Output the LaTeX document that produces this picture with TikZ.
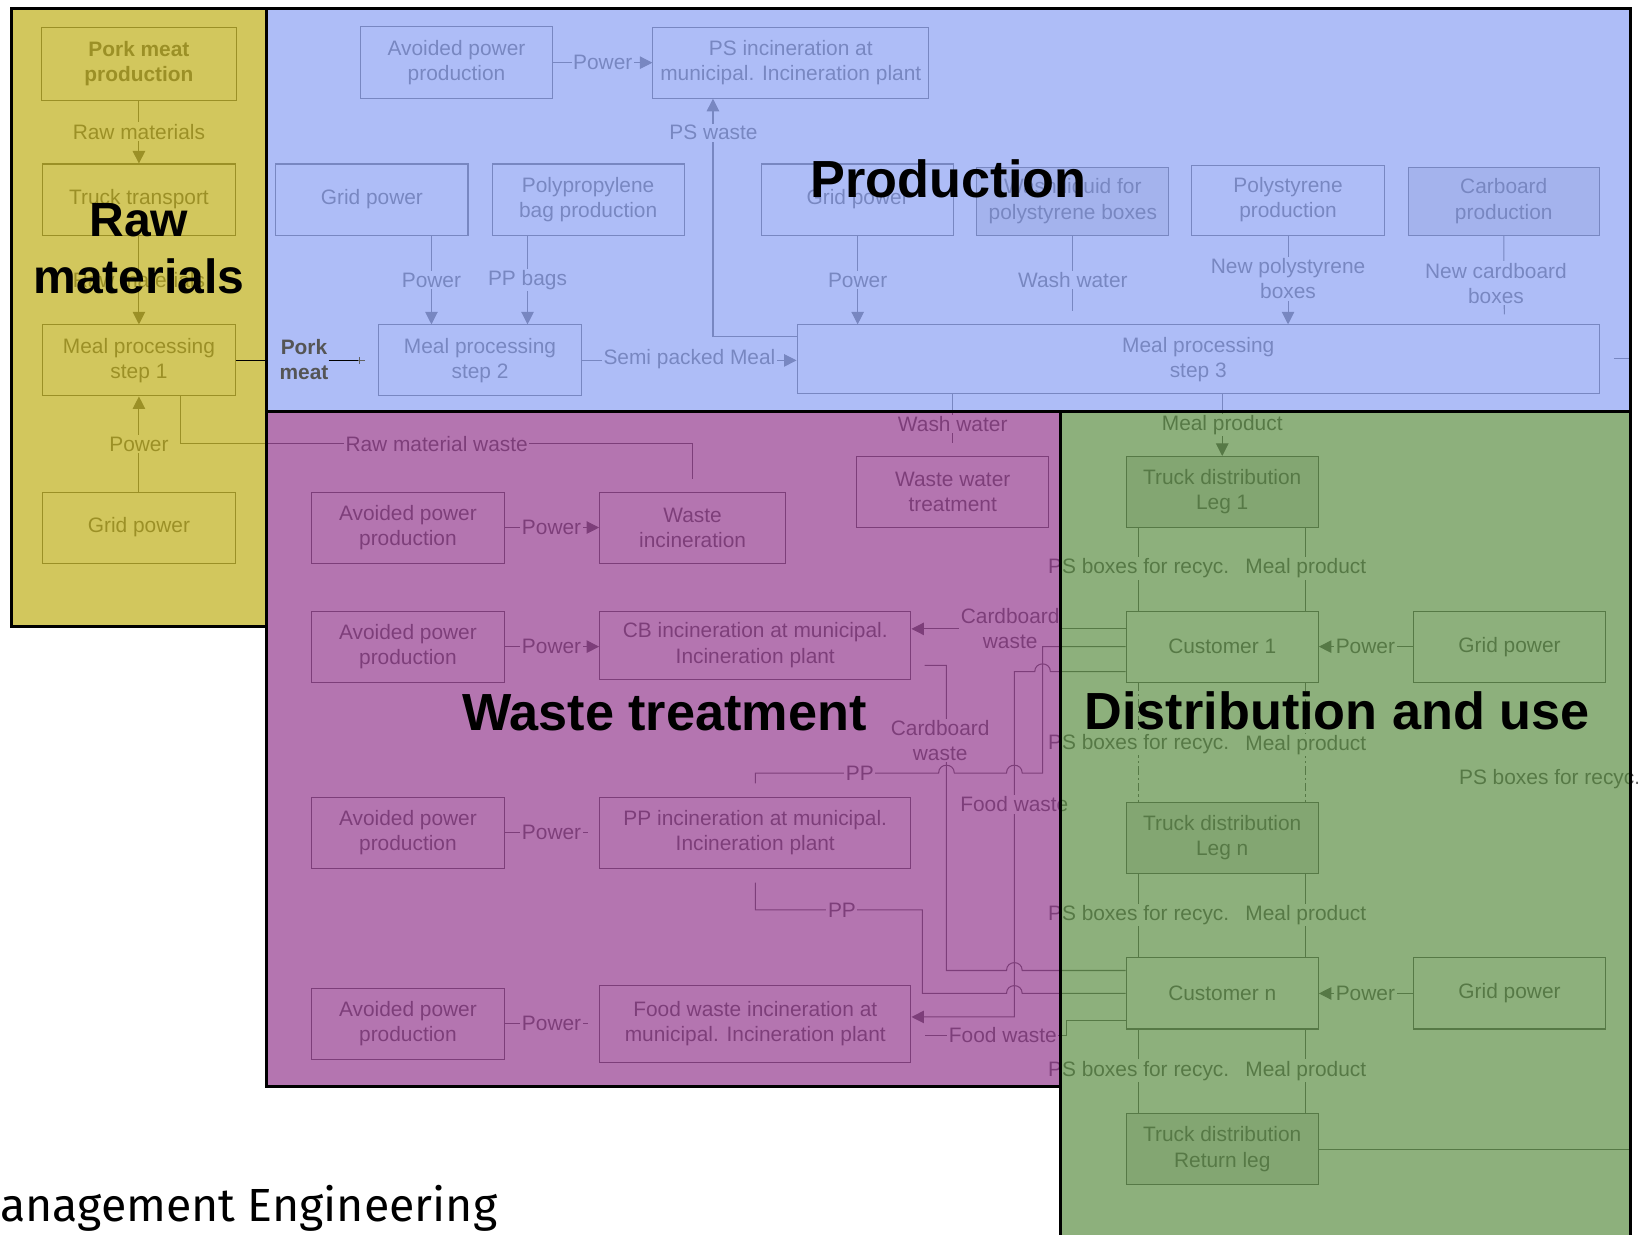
\documentclass[tikz,border=0pt]{standalone}
\usepackage{fontspec}
\setmainfont{Liberation Sans}
\newfontfamily\footfont{Fira Sans}
\usetikzlibrary{arrows.meta}
\definecolor{ink}{RGB}{98,98,98}
\definecolor{darkfill}{RGB}{226,226,226}
\definecolor{ovY}{RGB}{187,169,7}
\definecolor{ovB}{RGB}{132,155,244}
\definecolor{ovP}{RGB}{141,44,135}
\definecolor{ovG}{RGB}{81,134,55}
\definecolor{porkgray}{RGB}{85,85,85}
\begin{document}
\begin{tikzpicture}[x=1pt,y=-1pt,
  bx/.style={draw=ink, line width=1pt, text=ink, align=center, inner sep=0pt,
    font=\fontsize{20}{24}\selectfont, minimum width=184pt, minimum height=68pt},
  dk/.style={fill=darkfill},
  lbl/.style={fill=white, text=ink, inner sep=1.5pt, align=center, font=\fontsize{20}{24}\selectfont},
  con/.style={draw=ink, line width=1pt},
  arr/.style={-{Triangle[length=12pt,width=12pt]}},
  dashdot/.style={dash pattern=on 8pt off 3pt on 2pt off 3pt},
  region/.style={draw=black, line width=2.5pt},
  title/.style={text=black, align=center, inner sep=0pt, font=\fontsize{50}{57}\selectfont\bfseries},
]
\useasboundingbox (0,0) rectangle (1568,1182);
\fill[white] (0,0) rectangle (1568,1182);

% ---------------- boxes: raw materials
\node[bx, minimum width=186pt, minimum height=70pt, font=\fontsize{20}{24}\selectfont\bfseries] (pork) at (133,61) {Pork meat\\production};
\node[bx] (truck) at (133,191) {Truck transport};
\node[bx] (mp1) at (133,345) {Meal processing\\step 1};
\node[bx] (grid1) at (133,505) {Grid power};

% ---------------- boxes: production
\node[bx, minimum width=184pt, minimum height=69pt] (avp0) at (437,60) {Avoided power\\production};
\node[bx, minimum width=264pt] (psinc) at (757,60) {PS incineration at\\municipal. Incineration plant};
\node[bx] (grid2) at (356,191) {Grid power};
\node[bx] (ppbag) at (563,191) {Polypropylene\\bag production};
\node[bx] (grid3) at (821,191) {Grid power};
\node[bx, dk, minimum width=184pt, minimum height=65pt] (wash) at (1027,192.5) {Wash liquid for\\polystyrene boxes};
\node[bx, minimum height=67pt] (psprod) at (1233,191.5) {Polystyrene\\production};
\node[bx, dk, minimum width=183pt, minimum height=65pt] (cbprod) at (1439.5,192.5) {Carboard\\production};
\node[bx, minimum width=195pt] (mp2) at (459.5,345) {Meal processing\\step 2};
\node[bx, minimum width=768pt, minimum height=66pt] (mp3) at (1147,344) {Meal processing\\step 3};

% ---------------- boxes: waste treatment
\node[bx] (avp1) at (390.5,505) {Avoided power\\production};
\node[bx, minimum width=178pt] (winc) at (663,505) {Waste\\incineration};
\node[bx] (wwt) at (912,471) {Waste water\\treatment};
\node[bx] (avp2) at (390.5,619) {Avoided power\\production};
\node[bx, minimum width=298pt, minimum height=65pt] (cbinc) at (723,617.5) {CB incineration at municipal.\\Incineration plant};
\node[bx] (avp3) at (390.5,797) {Avoided power\\production};
\node[bx, minimum width=298pt] (ppinc) at (723,797) {PP incineration at municipal.\\Incineration plant};
\node[bx] (avp4) at (390.5,980) {Avoided power\\production};
\node[bx, minimum width=298pt, minimum height=74pt] (fwinc) at (723,980) {Food waste incineration at\\municipal. Incineration plant};

% ---------------- boxes: distribution and use
\node[bx, dk] (leg1) at (1170,471) {Truck distribution\\Leg 1};
\node[bx] (cust1) at (1170,619) {Customer 1};
\node[bx] (grid4) at (1445,619) {Grid power};
\node[bx, dk] (legn) at (1170,802) {Truck distribution\\Leg n};
\node[bx] (custn) at (1170,951) {Customer n};
\node[bx] (grid5) at (1445,951) {Grid power};
\node[bx, dk] (legr) at (1170,1100) {Truck distribution\\Return leg};

% ---------------- connectors: raw materials
\draw[con,arr] (pork.south) -- (truck.north);
\node[lbl] (l1) at (133,126) {Raw materials};
\draw[con,arr] (truck.south) -- (mp1.north);
\node[lbl] (l2) at (133,268) {Raw materials};
\draw[con,arr] (grid1.north) -- (mp1.south);
\node[lbl] (l3) at (133,425) {Power};
\coordinate (rmwend) at (663,459);
\draw[con] ([xshift=40pt]mp1.south) |- (663,425) -- (rmwend);
\node[lbl] (l4) at (418,425) {Raw material waste};

% ---------------- connectors: production
\draw[con,arr] (avp0.east) -- (psinc.west);
\node[lbl] (l5) at (577,60) {Power};
\draw[con,arr] ([xshift=57pt]grid2.south) -- ([xshift=-46.5pt]mp2.north);
\node[lbl] (l6) at (413,268) {Power};
\draw[con,arr] ([xshift=-58pt]ppbag.south) -- ([xshift=45.5pt]mp2.north);
\node[lbl] (l7) at (505,268) {PP bags};
\draw[con,arr] (grid3.south) -- ([xshift=-326pt]mp3.north);
\node[lbl] (l8) at (821,268) {Power};
\coordinate (wwend) at (1027,298);
\draw[con] (wash.south) -- (wwend);
\node[lbl] (l9) at (1027,268) {Wash water};
\draw[con,arr] (psprod.south) -- ([xshift=86pt]mp3.north);
\node[lbl] (l10) at (1233,267) {New polystyrene\\boxes};
\coordinate (cbend) at (1440,301);
\draw[con] (cbprod.south) -- (cbend);
\node[lbl] (l11) at (1432,271) {New cardboard\\boxes};
\draw[con,arr] (mp2.east) -- (mp2.east -| mp3.west);
\node[lbl] (l12) at (660,344) {Semi packed Meal};
\coordinate (m3w) at ([yshift=22pt]mp3.west);
\draw[con,arr] (m3w) -| ([xshift=-74.5pt]psinc.south);
\node[lbl] (l13) at (683,127) {PS waste};
\coordinate (s3a) at (1545,343);
\coordinate (s3b) at (1561,343);
\draw[con] (s3a) -- (s3b);
\coordinate (wwtend) at (912,424);
\draw[con] ([xshift=-235pt]mp3.south) -- (wwtend);
\node[lbl] (l14) at (912,406) {Wash water};
\draw[con,arr] ([xshift=23pt]mp3.south) -- (leg1.north);
\node[lbl] (l15) at (1170,407) {Meal product};

% ---------------- connectors: waste treatment
\draw[con,arr] (avp1.east) -- (winc.west);
\node[lbl] (l16) at (528,505) {Power};
\draw[con,arr] (avp2.east) -- (avp2.east -| cbinc.west);
\node[lbl] (l17) at (528,619) {Power};
\coordinate (p3end) at (563,797);
\draw[con] (avp3.east) -- (p3end);
\node[lbl] (l18) at (528,797) {Power};
\coordinate (p4end) at (563,980);
\draw[con] (avp4.east) -- (p4end);
\node[lbl] (l19) at (528,980) {Power};

% cardboard waste 1
\coordinate (c1a) at ([yshift=17pt]cust1.west);
\draw[con,arr] (c1a) -- (c1a -| cbinc.east);
\node[lbl] (l20) at (967,602) {Cardboard\\waste};
% PP 1
\coordinate (pp1end) at (723,750);
\draw[con] (cust1.west) -- (998,619) -- (998,740) -- (978.5,740)
  .. controls (978.5,730) and (963.5,730) .. (963.5,740) -- (913.5,740)
  .. controls (913.5,730) and (898.5,730) .. (898.5,740) -- (723,740) -- (pp1end);
\node[lbl] (l21) at (823,740) {PP};
% food waste 1
\coordinate (c1c) at ([yshift=-24pt]cust1.west);
\coordinate (fwin) at ([yshift=6.5pt]fwinc.east);
\draw[con,arr] (c1c) -- (1005.5,643) .. controls (1005.5,633) and (990.5,633) .. (990.5,643)
  -- (971,643) -- (971,973.5) -- (fwin);
\node[lbl] (l22) at (971,770) {Food waste};
% cardboard waste 2
\coordinate (cb2s) at (885,637);
\coordinate (cna) at ([yshift=22pt]custn.west);
\draw[con] (cb2s) -- (906,637) -- (906,929) -- (963.5,929)
  .. controls (963.5,919) and (978.5,919) .. (978.5,929) -- (cna);
\node[lbl] (l23) at (900,709) {Cardboard\\waste};
% PP 2
\coordinate (pp2s) at (723,845);
\draw[con] (pp2s) -- (723,871) -- (883,871) -- (883,951) -- (963.5,951)
  .. controls (963.5,941) and (978.5,941) .. (978.5,951) -- (custn.west);
\node[lbl] (l24) at (806,871) {PP};
% food waste 2
\coordinate (cnc) at ([yshift=-26pt]custn.west);
\coordinate (fw2end) at (885,991);
\draw[con] (cnc) -- (1021,977) -- (1021,991) -- (fw2end);
\node[lbl] (l25) at (960,991) {Food waste};

% ---------------- connectors: distribution
\draw[con] ([xshift=-80pt]leg1.south) -- ([xshift=-80pt]cust1.north);
\draw[con] ([xshift=80pt]leg1.south) -- ([xshift=80pt]cust1.north);
\node[lbl] (l26) at (1090,544) {PS boxes for recyc.};
\node[lbl] (l27) at (1250,544) {Meal product};
\draw[con,arr] (grid4.west) -- (cust1.east);
\node[lbl] (l28) at (1307,619) {Power};
\draw[con,dashdot] ([xshift=-80pt]cust1.south) -- ([xshift=-80pt]legn.north);
\draw[con,dashdot] ([xshift=80pt]cust1.south) -- ([xshift=80pt]legn.north);
\node[lbl] (l29) at (1090,712) {PS boxes for recyc.};
\node[lbl] (l30) at (1250,713) {Meal product};
\node[lbl, anchor=west] (l31) at (1395,746) {PS boxes for recyc.};
\draw[con] ([xshift=-80pt]legn.south) -- ([xshift=-80pt]custn.north);
\draw[con] ([xshift=80pt]legn.south) -- ([xshift=80pt]custn.north);
\node[lbl] (l32) at (1090,876) {PS boxes for recyc.};
\node[lbl] (l33) at (1250,876) {Meal product};
\draw[con,arr] (grid5.west) -- (custn.east);
\node[lbl] (l34) at (1307,951) {Power};
\draw[con] ([xshift=-80pt]custn.south) -- ([xshift=-80pt]legr.north);
\draw[con] ([xshift=80pt]custn.south) -- ([xshift=80pt]legr.north);
\node[lbl] (l35) at (1090,1025) {PS boxes for recyc.};
\node[lbl] (l36) at (1250,1025) {Meal product};
\coordinate (retend) at (1561,1100);
\draw[con] (legr.east) -- (retend);

% ---------------- translucent region overlays
\fill[ovY, fill opacity=0.65] (11,8) rectangle (255,600);
\fill[ovB, fill opacity=0.65] (255,8) rectangle (1561,394);
\fill[ovP, fill opacity=0.65] (255,394) rectangle (1015,1040);
\fill[ovG, fill opacity=0.65] (1015,394) rectangle (1561,1200);
\draw[region] (11,8) rectangle (255,600);
\draw[region] (255,8) rectangle (1561,394);
\draw[region] (255,394) rectangle (1015,1040);
\draw[region] (1015,394) rectangle (1561,1200);

% ---------------- opaque elements on top
\coordinate (pk1) at (255,345);
\draw[black, line width=1pt] (mp1.east) -- (pk1);
\node[font=\fontsize{20}{24}\selectfont\bfseries, text=porkgray, align=center, inner sep=0pt] (porklbl) at (291,344) {Pork\\meat};
\coordinate (pk2) at (343,345);
\coordinate (pk3) at (349,345);
\draw[black, line width=1pt] (porklbl.east |- pk2) -- (pk2);
\draw[ink, line width=1pt] (pk2) -- (pk3);
\draw[ink, line width=0.8pt] (344,342) -- (344,348);

\node[title, font=\fontsize{46}{55}\selectfont\bfseries] (traw) at (133,238) {Raw\\materials};
\node[title, anchor=base] (tprod) at (908,189) {Production};
\node[title, anchor=base] (twaste) at (636,699) {Waste treatment};
\node[title, anchor=base] (tdist) at (1280,698) {Distribution and use};

\node[anchor=base west, inner sep=0pt, text=black, font=\footfont\fontsize{44.5}{50}\selectfont] (dept) at (0,1169) {anagement Engineering};
\end{tikzpicture}
\end{document}
